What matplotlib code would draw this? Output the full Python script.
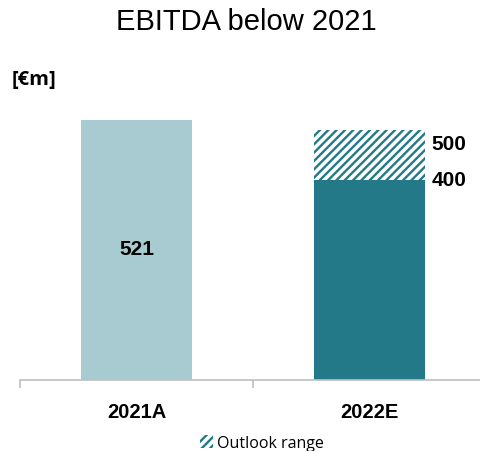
import matplotlib
matplotlib.use('Agg')
import matplotlib.pyplot as plt
from matplotlib.patches import Patch

# EBITDA data [EUR m]
categories = ['2021A', '2022E']
base_values = [521, 400]
range_top = [None, 500]
bar_labels = ['521', None]

light = '#a8cbd1'
dark = '#237987'

plt.rcParams['font.family'] = ['Liberation Sans', 'DejaVu Sans']
plt.rcParams['hatch.linewidth'] = 1.7
plt.rcParams['hatch.color'] = dark

fig = plt.figure(figsize=(4.81, 4.52), dpi=100)
ax = fig.add_axes([20 / 481, 71 / 452, 466 / 481, 300 / 452])

x = list(range(len(categories)))
ax.bar(x, base_values, width=0.475, color=[light, dark], zorder=2)

# outlook range drawn as hatched bar on top of the lower bound
for i, top in enumerate(range_top):
    if top is None:
        continue
    ax.bar(x[i], top - base_values[i], bottom=base_values[i], width=0.475,
           color='white', edgecolor=dark, hatch='////', linewidth=0, zorder=2)
    ax.text(x[i] + 0.265, top - 28, str(top), fontsize=15, fontweight='bold',
            va='center', ha='left')
    ax.text(x[i] + 0.265, base_values[i] + 2, str(base_values[i]), fontsize=15,
            fontweight='bold', va='center', ha='left')

for i, lab in enumerate(bar_labels):
    if lab:
        ax.text(x[i], base_values[i] * 0.505, lab, fontsize=15, fontweight='bold',
                ha='center', va='center')

ax.set_xlim(-0.5, 1.5)
ax.set_ylim(0, 600)
ax.set_yticks([])
for s in ['top', 'right', 'left']:
    ax.spines[s].set_visible(False)
ax.spines['bottom'].set_color('#bfbfbf')
ax.spines['bottom'].set_linewidth(1.2)

ax.set_xticks([-0.5, 0.5, 1.5], minor=False)
ax.set_xticklabels([])
ax.tick_params(axis='x', which='major', length=6, color='#bfbfbf', width=1.2, direction='out')
ax.set_xticks(x, minor=True)
ax.set_xticklabels(categories, minor=True, fontsize=14.5, fontweight='bold')
ax.tick_params(axis='x', which='minor', length=0, pad=16)

fig.text(0.5 + 6 / 481, 1 - 22 / 452, 'EBITDA below 2021', ha='center', va='center', fontsize=21)
fig.text(12 / 481, 1 - 80 / 452, '[€m]', ha='left', va='center', fontsize=14.5,
         fontweight='bold', family=['Open Sans', 'DejaVu Sans'])

handle = Patch(facecolor='white', edgecolor=dark, hatch='////', linewidth=0)
fig.legend(handles=[handle], labels=['Outlook range'], loc='center',
           bbox_to_anchor=(262 / 481, 1 - 444 / 452), frameon=False, handlelength=0.8,
           handleheight=0.8, handletextpad=0.3, borderpad=0, borderaxespad=0,
           prop={'family': ['Open Sans', 'DejaVu Sans'], 'size': 11.5})

fig.savefig('out.png', dpi=100)
